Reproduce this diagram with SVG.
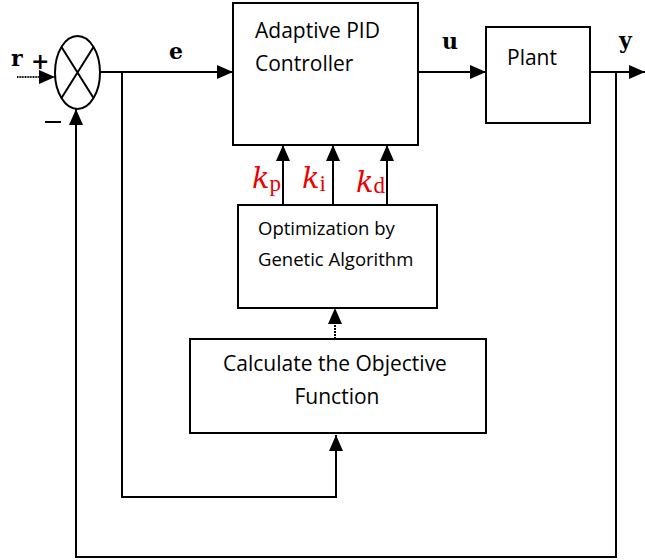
<svg xmlns="http://www.w3.org/2000/svg" width="645" height="560" viewBox="0 0 645 560">
  <defs>
    <marker id="arrBig" markerWidth="16" markerHeight="14" refX="16" refY="7" orient="auto" markerUnits="userSpaceOnUse" viewBox="0 0 16 14">
      <path d="M0,0 L16,7 L0,14 z" fill="#000"/>
    </marker>
  </defs>
  <style>
    .box { fill: #fff; stroke: #000; stroke-width: 2; }
    .wire { fill: none; stroke: #000; stroke-width: 2; }
    .lbl { font-family: "Open Sans", "Noto Sans", sans-serif; font-size: 21px; fill: #000; }
    .lbls { font-family: "Open Sans", "Noto Sans", sans-serif; font-size: 18.5px; fill: #000; }
    .sig { font-family: "DejaVu Serif", serif; font-weight: bold; font-size: 22px; fill: #000; }
    .k { font-family: "DejaVu Serif", serif; font-style: italic; font-size: 29px; fill: #e00; }
    .ks { font-family: "Liberation Serif", serif; font-size: 23px; fill: #e00; font-style: normal; }
  </style>
  <rect width="645" height="560" fill="#fff"/>

  <!-- summing junction -->
  <g id="sum">
    <ellipse cx="77.5" cy="72.5" rx="22.5" ry="36.5" class="box"/>
    <path d="M61.5,47 L93.5,98 M93.5,47 L61.5,98" class="wire"/>
    <text x="11" y="66" class="sig">r</text>
    <text x="31" y="69" class="sig">+</text>
    <path d="M45,122 L61,122" class="wire" stroke-width="2.5"/>
  </g>

  <g id="controller">
    <rect x="233" y="3" width="185" height="142" class="box"/>
    <text x="255" y="38" class="lbl">Adaptive PID</text>
    <text x="255" y="71" class="lbl">Controller</text>
  </g>

  <g id="plant">
    <rect x="486" y="27" width="104" height="96" class="box"/>
    <text x="507" y="65" class="lbl">Plant</text>
  </g>

  <g id="optimizer">
    <rect x="238" y="205" width="199" height="103" class="box"/>
    <text x="258" y="235" class="lbls">Optimization by</text>
    <text x="258" y="266" class="lbls">Genetic Algorithm</text>
  </g>

  <g id="objective">
    <rect x="190" y="339" width="296" height="94" class="box"/>
    <text x="335" y="371" class="lbl" text-anchor="middle">Calculate the Objective</text>
    <text x="337" y="404" class="lbl" text-anchor="middle">Function</text>
  </g>

  <g id="connectors">
    <!-- reference input -->
    <path d="M17,77 L55,77" class="wire" stroke-dasharray="1 0.6" marker-end="url(#arrBig)"/>
    <!-- error to controller -->
    <path d="M100,72 L233,72" class="wire" marker-end="url(#arrBig)"/>
    <text x="169" y="59" class="sig">e</text>
    <!-- error branch to objective -->
    <path d="M122,72 L122,497 L336,497 L336,435" class="wire" marker-end="url(#arrBig)"/>
    <!-- control signal -->
    <path d="M418,72 L486,72" class="wire" marker-end="url(#arrBig)"/>
    <text x="442" y="49" class="sig">u</text>
    <!-- plant output -->
    <path d="M590,72 L645,72" class="wire" marker-end="url(#arrBig)"/>
    <text x="619" y="48" class="sig">y</text>
    <!-- output feedback -->
    <path d="M616,72 L616,557 L76,557 L76,109" class="wire" marker-end="url(#arrBig)"/>
    <!-- objective to optimizer -->
    <path d="M335,339 L335,308" class="wire" stroke-dasharray="2 1" marker-end="url(#arrBig)"/>
    <!-- gains -->
    <path d="M283,205 L283,145" class="wire" marker-end="url(#arrBig)"/>
    <path d="M333,205 L333,145" class="wire" marker-end="url(#arrBig)"/>
    <path d="M387,205 L387,145" class="wire" marker-end="url(#arrBig)"/>
    <text x="252" y="188" class="k">k<tspan class="ks" dx="0" dy="3">p</tspan></text>
    <text x="302" y="188" class="k">k<tspan class="ks" dx="0" dy="3">i</tspan></text>
    <text x="356" y="192" class="k">k<tspan class="ks" dx="0" dy="1">d</tspan></text>
  </g>
</svg>
